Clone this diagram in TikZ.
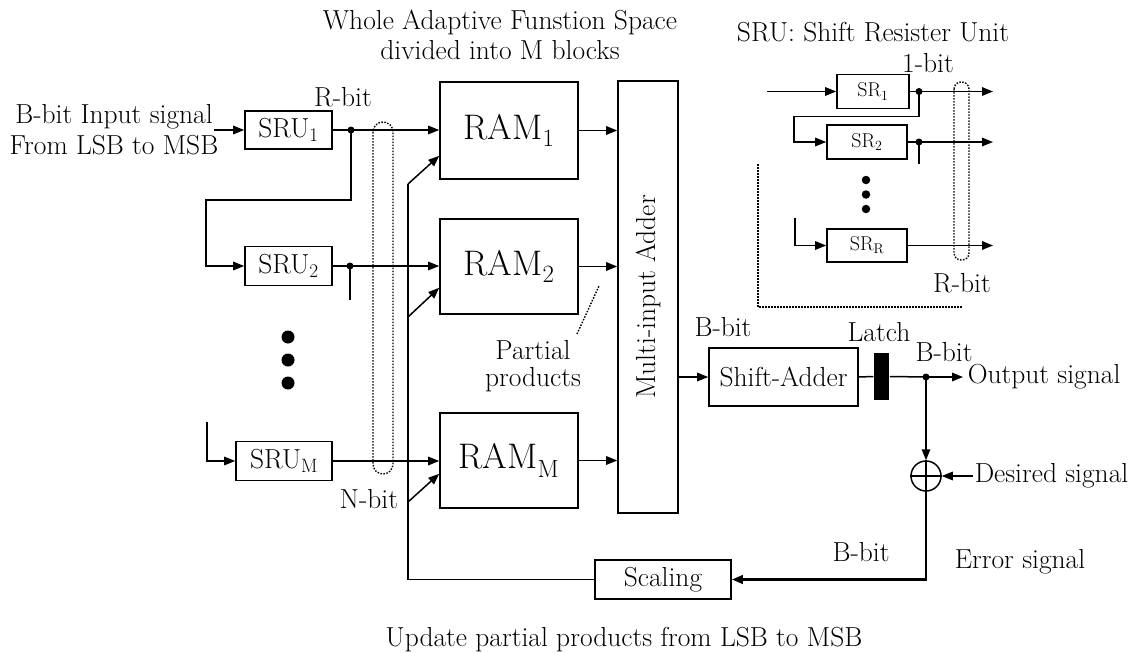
\documentclass[tikz,border=0pt]{standalone}
\usetikzlibrary{arrows.meta,calc}
\begin{document}
\begin{tikzpicture}[x=1pt,y=-1pt,line width=1.5pt,
  box/.style={draw,rectangle,inner sep=0pt,line width=1.6pt,font=\fontsize{27.5}{32}\selectfont},
  rambox/.style={box,minimum width=138pt,font=\fontsize{35.5}{42}\selectfont},
  srbox/.style={box,font=\fontsize{20}{24}\selectfont},
  lbl/.style={inner sep=0pt,font=\fontsize{27.5}{32}\selectfont},
  dotl/.style={line width=1.4pt,dash pattern=on 1.5pt off 1.5pt},
  arr/.style={-{Triangle[length=11pt,width=8.5pt]}},
  jdot/.style={circle,fill=black,inner sep=0pt,minimum size=7pt},
  bigdot/.style={circle,fill=black,inner sep=0pt,minimum size=13pt},
  smalldot/.style={circle,fill=black,inner sep=0pt,minimum size=8.5pt}]
\useasboundingbox (0,0) rectangle (1138,653);

% titles
\node[lbl] (t1) at (500,22) {Whole Adaptive Funstion Space};
\node[lbl] (t2) at (500,50) {divided into M blocks};
\node[lbl] (t3) at (873,32) {SRU: Shift Resister Unit};
\node[lbl] (in1) at (114,117) {B-bit Input signal};
\node[lbl] (in2) at (114,145) {From LSB to MSB};

% SRU boxes
\node[box,minimum width=87pt,minimum height=38pt] (sru1) at (288.5,130) {SRU\textsubscript{1}};
\node[box,minimum width=87pt,minimum height=39pt] (sru2) at (288.5,266) {SRU\textsubscript{2}};
\node[box,minimum width=96pt,minimum height=39pt] (sruM) at (284,461) {SRU\textsubscript{M}};
\node[bigdot] (b1) at (288,337) {};
\node[bigdot] (b2) at (288,360) {};
\node[bigdot] (b3) at (288,383) {};

% RAMs and adder
\node[rambox,minimum height=97pt] (ram1) at (509,130.5) {RAM\textsubscript{1}};
\node[rambox,minimum height=95pt] (ram2) at (509,266.5) {RAM\textsubscript{2}};
\node[rambox,minimum height=95pt] (ramM) at (509,460.5) {RAM\textsubscript{M}};
\node[box,minimum width=60pt,minimum height=432pt] (adder) at (648,297) {};
\node[lbl,rotate=90] (addt) at (648,297) {Multi-input Adder};

% labels
\node[lbl] (rbit) at (343,97) {R-bit};
\node[lbl] (nbit) at (369,499) {N-bit};
\node[lbl] (pp1) at (533,350) {Partial};
\node[lbl] (pp2) at (533,380) {products};
\node[lbl] (bb1) at (723,327) {B-bit};
\node[lbl] (latcht) at (879,332) {Latch};
\node[lbl] (bb2) at (944,352) {B-bit};
\node[lbl,anchor=west] (outt) at (967,377) {Output signal};
\node[lbl,anchor=west] (dest) at (974,476) {Desired signal};
\node[lbl] (bb3) at (861,552) {B-bit};
\node[lbl] (errt) at (1020,562) {Error signal};
\node[lbl] (upd) at (624,640) {Update partial products from LSB to MSB};

% Shift-adder etc
\node[box,minimum width=149pt,minimum height=58pt] (shift) at (783.5,377) {Shift-Adder};
\node[fill=black,inner sep=0pt,minimum width=15pt,minimum height=47pt] (latch) at (881.5,376.5) {};
\node[draw,circle,inner sep=0pt,minimum size=30pt,line width=1.5pt] (sum) at (926,476) {};
\draw (sum.north) -- (sum.south) (sum.west) -- (sum.east);
\node[box,minimum width=136pt,minimum height=39pt] (scal) at (663,579.5) {Scaling};

% input path
\coordinate (inp) at (214,130);
\draw[arr] (inp) -- (sru1.west);
\node[jdot] (j1) at (351,130) {};
\draw[arr] (sru1.east) -- (sru1.east -| ram1.west);
\draw[arr] (j1.center) -- ++(0,70) -| ([xshift=-38pt]sru2.west) -- (sru2.west);
\node[jdot] (j2) at (350,266) {};
\draw[arr] (sru2.east) -- (sru2.east -| ram2.west);
\draw (j2.center) -- ++(0,34);
\coordinate (mstub) at (207,422);
\draw[arr] (mstub) |- (sruM.west);
\draw[arr] (sruM.east) -- (sruM.east -| ramM.west);
\draw[dotl,rounded corners=10pt] (373,122) rectangle (393,474);

% feedback
\coordinate (fb1) at (408,184);
\coordinate (fb2) at (408,317);
\coordinate (fbM) at (408,502);
\draw (scal.west) -| (fb1);
\draw[arr] (fb1) -- ([yshift=24pt]ram1.south west);
\draw[arr] (fb2) -- ([yshift=27pt]ram2.south west);
\draw[arr] (fbM) -- ([yshift=35pt]ramM.south west);

% RAM to adder
\draw[arr] (ram1.east) -- (ram1.east -| adder.west);
\draw[arr] (ram2.east) -- (ram2.east -| adder.west);
\draw[arr] (ramM.east) -- (ramM.east -| adder.west);
\coordinate (ppa) at (577,334);
\coordinate (ppb) at (599,286);
\draw[dotl] (ppa) -- (ppb);

% adder to output
\draw[arr] (adder.east |- shift.west) -- (shift.west);
\draw (shift.east) -- (latch.west);
\node[jdot] (jo) at (926,377) {};
\draw (latch.east) -- (jo.center);
\coordinate (outp) at (963,377);
\draw[arr] (jo.center) -- (outp);
\draw[arr] (jo.center) -- (sum.north);
\coordinate (desp) at (973,476);
\draw[arr] (desp) -- (sum.east);
\draw[arr,line width=2.4pt] (sum.south) |- (scal.east);

% inset
\node[lbl] (onebit) at (928,63) {1-bit};
\node[lbl] (rbit2) at (962,283) {R-bit};
\node[srbox,minimum width=72pt,minimum height=34pt] (sr1) at (873,91.5) {SR\textsubscript{1}};
\node[srbox,minimum width=80pt,minimum height=34pt] (sr2) at (867,142) {SR\textsubscript{2}};
\node[srbox,minimum width=80pt,minimum height=33pt] (srR) at (867,245.5) {SR\textsubscript{R}};
\node[smalldot] (s1) at (866,180) {};
\node[smalldot] (s2) at (866,194.5) {};
\node[smalldot] (s3) at (866,209) {};
\coordinate (srin) at (767,91.5);
\draw[arr] (srin) -- (sr1.west);
\node[jdot] (k1) at (919,91.5) {};
\coordinate (o1) at (993,91.5);
\draw[arr] (sr1.east) -- (o1);
\draw[arr] (k1.center) -- ++(0,25) -| ([xshift=-32pt]sr2.west) -- (sr2.west);
\node[jdot] (k2) at (919,142) {};
\coordinate (o2) at (993,142);
\draw[arr] (sr2.east) -- (o2);
\draw (k2.center) -- ++(0,22);
\coordinate (rstub) at (795,218);
\draw[arr] (rstub) |- (srR.west);
\coordinate (o3) at (993,245.5);
\draw[arr] (srR.east) -- (o3);
\draw[dotl,rounded corners=7pt] (954,82) rectangle (969,260);
\coordinate (la) at (758,164);
\coordinate (lb) at (962,307);
\draw[dotl] (la) |- (lb);
\end{tikzpicture}
\end{document}
